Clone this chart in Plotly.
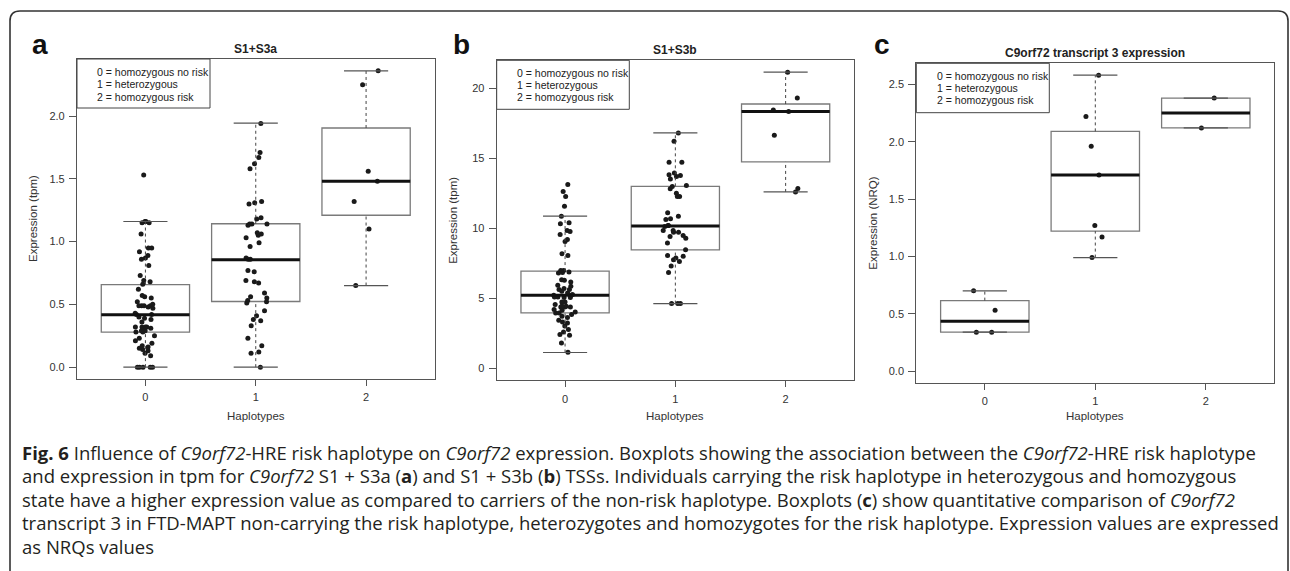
import plotly.graph_objects as go

W, H = 1290, 571

# ---------------- data ----------------
groups = [0, 1, 2]
tick_labels = ["0", "1", "2"]
legend_lines = ["0 = homozygous no risk", "1 = heterozygous", "2 = homozygous risk"]

# Panel a : S1+S3a, expression (tpm)
a_g0 = [1.53, 1.16, 1.16, 1.15, 1.15, 1.06, 0.95, 0.95, 0.92, 0.89, 0.87, 0.86, 0.81,
        0.73, 0.69, 0.68, 0.66, 0.62, 0.57, 0.56, 0.55, 0.52, 0.49, 0.49, 0.49, 0.49,
        0.50, 0.48, 0.47, 0.43, 0.42, 0.42, 0.40, 0.39, 0.38, 0.36, 0.32, 0.32, 0.32,
        0.32, 0.31, 0.29, 0.29, 0.28, 0.28, 0.25, 0.23, 0.21, 0.19, 0.17, 0.16, 0.15,
        0.14, 0.13, 0.11, 0.09, 0.0, 0.0, 0.0, 0.0, 0.0]
a_g1 = [1.94, 1.71, 1.67, 1.62, 1.58, 1.32, 1.31, 1.30, 1.19, 1.18, 1.14, 1.14, 1.14,
        1.13, 1.05, 1.06, 1.07, 1.03, 0.99, 0.96, 0.87, 0.86, 0.86, 0.77, 0.76, 0.69,
        0.68, 0.67, 0.59, 0.56, 0.55, 0.53, 0.51, 0.52, 0.45, 0.41, 0.38, 0.37, 0.33,
        0.23, 0.17, 0.12, 0.11, 0.0]
a_g2 = [0.65, 1.10, 1.32, 1.48, 1.56, 2.25, 2.36]
a_q1 = [0.279, 0.523, 1.21]
a_med = [0.417, 0.855, 1.48]
a_q3 = [0.658, 1.142, 1.905]
a_lo = [0.0, 0.0, 0.65]
a_hi = [1.16, 1.944, 2.36]

# Panel b : S1+S3b, expression (tpm)
b_g0 = [13.13, 12.63, 12.27, 11.58, 10.87, 10.40, 10.33, 9.85, 9.57, 9.78, 9.21, 9.07,
        8.19, 8.07, 7.00, 6.84, 6.88, 7.00, 6.81, 6.34, 6.17, 6.29, 5.93, 5.86, 5.70,
        5.63, 5.63, 5.51, 5.39, 5.28, 5.22, 5.22, 5.10, 5.06, 5.06, 5.10, 4.74, 4.74,
        4.56, 4.39, 4.44, 4.39, 4.39, 4.46, 4.20, 4.03, 4.15, 3.96, 3.96, 3.85, 3.72,
        3.63, 3.44, 3.25, 3.32, 3.03, 2.78, 2.61, 2.37, 2.42, 1.82, 1.16]
b_g1 = [16.81, 16.21, 14.72, 14.72, 13.70, 13.77, 13.96, 13.82, 13.53, 13.06, 12.98,
        12.82, 12.51, 12.27, 12.27, 11.11, 10.87, 10.68, 10.63, 10.21, 10.21, 10.13,
        9.85, 9.73, 9.42, 9.30, 9.49, 9.73, 9.85, 8.95, 8.47, 8.00, 7.88, 8.07, 7.76,
        7.64, 7.31, 6.84, 4.63, 4.63, 4.63]
b_g2 = [12.60, 12.85, 16.65, 18.35, 18.45, 19.30, 21.15]
b_q1 = [3.96, 8.47, 14.75]
b_med = [5.22, 10.16, 18.35]
b_q3 = [6.95, 13.00, 18.875]
b_lo = [1.14, 4.63, 12.60]
b_hi = [10.87, 16.81, 21.15]

# Panel c : C9orf72 transcript 3 expression (NRQ)
c_g0 = [0.34, 0.34, 0.53, 0.70]
c_g1 = [0.99, 1.17, 1.27, 1.71, 1.96, 2.22, 2.58]
c_g2 = [2.12, 2.38]
c_q1 = [0.34, 1.22, 2.12]
c_med = [0.435, 1.71, 2.25]
c_q3 = [0.615, 2.09, 2.38]
c_lo = [0.34, 0.99, 2.12]
c_hi = [0.70, 2.58, 2.38]

caption_lines = [
    "<b>Fig. 6</b> Influence of <i>C9orf72</i>-HRE risk haplotype on <i>C9orf72</i> expression. "
    "Boxplots showing the association between the <i>C9orf72</i>-HRE risk haplotype",
    "and expression in tpm for <i>C9orf72</i> S1 + S3a (<b>a</b>) and S1 + S3b (<b>b</b>) TSSs. "
    "Individuals carrying the risk haplotype in heterozygous and homozygous",
    "state have a higher expression value as compared to carriers of the non-risk haplotype. "
    "Boxplots (<b>c</b>) show quantitative comparison of <i>C9orf72</i>",
    "transcript 3 in FTD-MAPT non-carrying the risk haplotype, heterozygotes and homozygotes "
    "for the risk haplotype. Expression values are expressed",
    "as NRQs values",
]

# ---------------- layout helpers ----------------
def PX(x):
    return x / W

def PY(y):
    return 1 - y / H

FONT = "Liberation Sans, Arial, sans-serif"
DARK = "#222222"

panels = [
    dict(key="a", title="S1+S3a", ytitle="Expression (tpm)",
         data=[a_g0, a_g1, a_g2], q1=a_q1, med=a_med, q3=a_q3, lo=a_lo, hi=a_hi,
         yticks=[0, 0.5, 1.0, 1.5, 2.0], fmt=".1f",
         dom_x=(77, 434.5), dom_y=(59, 379), letter_x=40, ytitle_x=33,
         leg=(77, 210, 59, 108), leg_tx=95, leg_ty=[72, 84.3, 96.7]),
    dict(key="b", title="S1+S3b", ytitle="Expression (tpm)",
         data=[b_g0, b_g1, b_g2], q1=b_q1, med=b_med, q3=b_q3, lo=b_lo, hi=b_hi,
         yticks=[0, 5, 10, 15, 20], fmt="d",
         dom_x=(496.7, 854), dom_y=(60.3, 380.3), letter_x=461, ytitle_x=453.5,
         leg=(496.7, 629.3, 60.3, 109.3), leg_tx=515, leg_ty=[72.7, 85, 96.7]),
    dict(key="c", title="C9orf72 transcript 3 expression", ytitle="Expression (NRQ)",
         data=[c_g0, c_g1, c_g2], q1=c_q1, med=c_med, q3=c_q3, lo=c_lo, hi=c_hi,
         yticks=[0, 0.5, 1.0, 1.5, 2.0, 2.5], fmt=".1f",
         dom_x=(916.3, 1274.3), dom_y=(63.3, 383), letter_x=882, ytitle_x=873.5,
         leg=(916.3, 1049.3, 63.3, 112.7), leg_tx=935, leg_ty=[76, 88.3, 100]),
]

fig = go.Figure()
annotations = []
shapes = []

BOXW = 0.8
CAPW = 0.4

for i, p in enumerate(panels):
    n = "" if i == 0 else str(i + 1)
    xa, ya = "x" + n, "y" + n

    # box bodies (precomputed stats, whiskers drawn separately)
    fig.add_trace(go.Box(
        x=groups, q1=p["q1"], median=p["med"], q3=p["q3"],
        lowerfence=p["q1"], upperfence=p["q3"],
        width=BOXW, whiskerwidth=0, boxpoints=False,
        fillcolor="rgba(255,255,255,0)", line=dict(color="#7a7a7a", width=1.3),
        xaxis=xa, yaxis=ya, showlegend=False, hoverinfo="skip"))

    # dashed whiskers
    wx, wy = [], []
    for g, lo, q1, q3, hi in zip(groups, p["lo"], p["q1"], p["q3"], p["hi"]):
        wx += [g, g, None, g, g, None]
        wy += [q3, hi, None, lo, q1, None]
    fig.add_trace(go.Scatter(x=wx, y=wy, mode="lines",
                             line=dict(color="#444444", width=1, dash="3px,3px"),
                             xaxis=xa, yaxis=ya, showlegend=False, hoverinfo="skip"))

    # whisker caps
    cx, cy = [], []
    for g, lo, hi in zip(groups, p["lo"], p["hi"]):
        cx += [g - CAPW / 2, g + CAPW / 2, None, g - CAPW / 2, g + CAPW / 2, None]
        cy += [hi, hi, None, lo, lo, None]
    fig.add_trace(go.Scatter(x=cx, y=cy, mode="lines",
                             line=dict(color="#555555", width=1.2),
                             xaxis=xa, yaxis=ya, showlegend=False, hoverinfo="skip"))

    # medians (thick)
    mx, my = [], []
    for g, m in zip(groups, p["med"]):
        mx += [g - BOXW / 2, g + BOXW / 2, None]
        my += [m, m, None]
    fig.add_trace(go.Scatter(x=mx, y=my, mode="lines",
                             line=dict(color="#111111", width=3),
                             xaxis=xa, yaxis=ya, showlegend=False, hoverinfo="skip"))

    # jittered points (library jitter)
    px_, py_ = [], []
    for g, vals in zip(groups, p["data"]):
        px_ += [g] * len(vals)
        py_ += vals
    fig.add_trace(go.Box(
        x=px_, y=py_, boxpoints="all", jitter=0.3, pointpos=0, width=BOXW,
        fillcolor="rgba(0,0,0,0)", line=dict(color="rgba(0,0,0,0)", width=0),
        marker=dict(color="#1a1a1a", size=5),
        xaxis=xa, yaxis=ya, showlegend=False, hoverinfo="y"))

    allv = [v for vals in p["data"] for v in vals]
    hi_v = max(allv)
    pad = 0.04 * hi_v
    x0, x1 = p["dom_x"]
    yt, yb = p["dom_y"]
    xkey = "xaxis" + n
    ykey = "yaxis" + n
    fig.update_layout(**{
        xkey: dict(domain=[PX(x0), PX(x1)], anchor=ya, range=[-0.62, 2.62],
                   tickvals=groups, ticktext=tick_labels, ticks="outside", ticklen=6,
                   tickcolor="#555555", showline=True, mirror=True, linecolor="#555555",
                   linewidth=1.2, showgrid=False, zeroline=False,
                   tickfont=dict(family=FONT, size=11, color="#333333"),
                   ticklabelstandoff=2),
        ykey: dict(domain=[PY(yb), PY(yt)], anchor=xa, range=[-pad, hi_v + pad],
                   tickvals=p["yticks"], tickformat=p["fmt"], ticks="outside", ticklen=7,
                   tickcolor="#555555", showline=True, mirror=True, linecolor="#555555",
                   linewidth=1.2, showgrid=False, zeroline=False,
                   tickfont=dict(family=FONT, size=11, color="#333333"),
                   ticklabelstandoff=2),
    })

    cxm = (x0 + x1) / 2
    # title
    annotations.append(dict(text="<b>" + p["title"] + "</b>", x=PX(cxm), y=PY(yt - 10),
                            xref="paper", yref="paper", showarrow=False,
                            xanchor="center", yanchor="middle",
                            font=dict(family=FONT, size=12, color=DARK)))
    # panel letter
    annotations.append(dict(text="<b>" + p["key"] + "</b>", x=PX(p["letter_x"]), y=PY(45),
                            xref="paper", yref="paper", showarrow=False,
                            xanchor="center", yanchor="middle",
                            font=dict(family=FONT, size=28, color="#111111")))
    # y title
    annotations.append(dict(text=p["ytitle"], x=PX(p["ytitle_x"]), y=PY((yt + yb) / 2),
                            xref="paper", yref="paper", showarrow=False, textangle=-90,
                            xanchor="center", yanchor="middle",
                            font=dict(family=FONT, size=11.5, color="#333333")))
    # x title
    annotations.append(dict(text="Haplotypes", x=PX(cxm), y=PY(416),
                            xref="paper", yref="paper", showarrow=False,
                            xanchor="center", yanchor="middle",
                            font=dict(family=FONT, size=11.5, color="#333333")))
    # legend box
    lx0, lx1, ly0, ly1 = p["leg"]
    shapes.append(dict(type="rect", xref="paper", yref="paper",
                       x0=PX(lx0), x1=PX(lx1), y0=PY(ly1), y1=PY(ly0),
                       line=dict(color="#444444", width=1), fillcolor="white", layer="above"))
    for t, ty in zip(legend_lines, p["leg_ty"]):
        annotations.append(dict(text=t, x=PX(p["leg_tx"]), y=PY(ty),
                                xref="paper", yref="paper", showarrow=False,
                                xanchor="left", yanchor="middle",
                                font=dict(family=FONT, size=10.5, color=DARK)))

# caption
cap_y = [452, 475.5, 499, 522.5, 546]
for t, cy in zip(caption_lines, cap_y):
    annotations.append(dict(text=t, x=PX(20), y=PY(cy), xref="paper", yref="paper",
                            showarrow=False, xanchor="left", yanchor="middle",
                            font=dict(family="Open Sans, Noto Sans, sans-serif",
                                      size=18.5, color="#231f20")))

# rounded outer frame (open at the bottom)
r = 10
L, R, T, B = 10, 1288, 11, 600
path = (f"M {PX(L)},{PY(B)} L {PX(L)},{PY(T + r)} Q {PX(L)},{PY(T)} {PX(L + r)},{PY(T)} "
        f"L {PX(R - r)},{PY(T)} Q {PX(R)},{PY(T)} {PX(R)},{PY(T + r)} L {PX(R)},{PY(B)}")
shapes.append(dict(type="path", path=path, xref="paper", yref="paper",
                   line=dict(color="#333333", width=1.6)))

fig.update_layout(width=W, height=H, margin=dict(l=0, r=0, t=0, b=0),
                  paper_bgcolor="white", plot_bgcolor="white",
                  boxmode="overlay", annotations=annotations, shapes=shapes,
                  showlegend=False)

fig.write_html("out.html", config={"displayModeBar": False},
               post_script="document.body.style.margin='0';"
                           "document.body.style.overflow='hidden';")
